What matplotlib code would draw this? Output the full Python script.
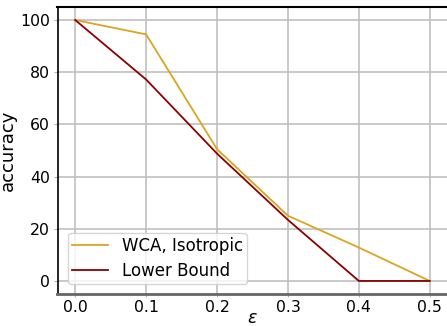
import matplotlib
matplotlib.use('Agg')
import matplotlib.pyplot as plt

# data
eps = [0.0, 0.1, 0.2, 0.3, 0.4, 0.5]
wca_iso = [100, 94.5, 50.5, 25, 12.8, 0]
lower_bound = [100, 77.2, 48.8, 23.4, 0, 0]

fig = plt.figure(figsize=(4.47, 3.26), dpi=100)
ax = fig.add_axes([57.5 / 447, 1 - 294 / 326, 390 / 447, 287 / 326])

ax.plot(eps, wca_iso, color='#DAA520', lw=1.3, label='WCA, Isotropic')
ax.plot(eps, lower_bound, color='#8B0000', lw=1.3, label='Lower Bound')

ax.set_xticks(eps)
ax.set_yticks([0, 20, 40, 60, 80, 100])
ax.grid(True, color='#c0c0c0', lw=1.2)
ax.set_axisbelow(True)
ax.tick_params(labelsize=11.3, color='#b0b0b0', length=3, pad=2.5)
ax.tick_params(axis='x', length=2.5, pad=1.5)
ax.spines['bottom'].set_color('#666666')
ax.spines['bottom'].set_linewidth(2)
ax.spines['right'].set_visible(False)
ax.spines['top'].set_linewidth(1.5)
ax.spines['left'].set_linewidth(1.2)

ax.set_xlabel(r'$\varepsilon$', fontsize=12.5, labelpad=-4)
ax.set_ylabel('accuracy', fontsize=13, labelpad=2)
ax.legend(loc='lower left', fontsize=12, handlelength=2.2, borderpad=0.25,
          borderaxespad=0.6, labelspacing=0.4)

fig.savefig('out.png', dpi=100)
